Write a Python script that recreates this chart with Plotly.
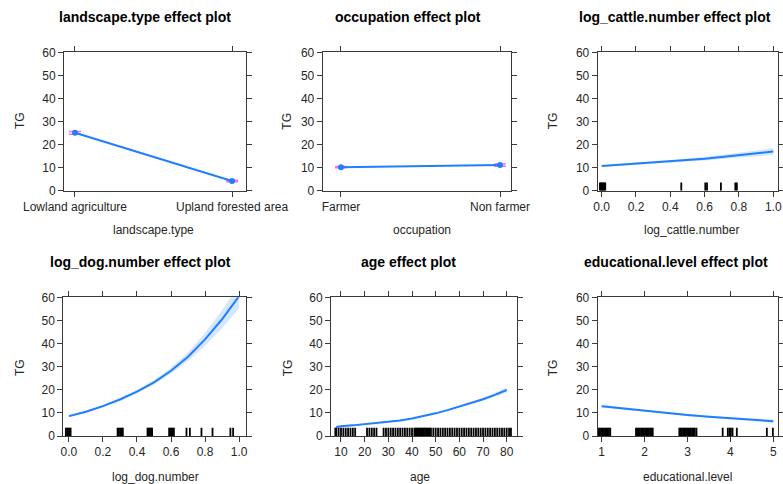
import plotly.graph_objects as go

W, H = 783, 484

# ---------------- data ----------------
landscape_cats = ["Lowland agriculture", "Upland forested area"]
landscape_fit = [25.1, 4.2]
landscape_lo = [24.5, 3.9]
landscape_hi = [25.7, 4.5]

occupation_cats = ["Farmer", "Non farmer"]
occupation_fit = [10.2, 11.1]
occupation_lo = [9.9, 10.6]
occupation_hi = [10.5, 11.6]

cattle_x = [0.0, 0.1, 0.2, 0.3, 0.4, 0.5, 0.6, 0.7, 0.8, 0.9, 1.0]
cattle_fit = [10.7, 11.2, 11.7, 12.2, 12.7, 13.3, 13.9, 14.6, 15.3, 16.1, 17.0]
cattle_lo = [10.3, 10.8, 11.3, 11.7, 12.1, 12.6, 13.1, 13.7, 14.2, 14.8, 15.5]
cattle_hi = [11.1, 11.6, 12.1, 12.7, 13.3, 14.0, 14.7, 15.5, 16.4, 17.4, 18.5]
cattle_rug = [-0.01, -0.004, 0.002, 0.008, 0.014, 0.021, 0.464, 0.604, 0.614,
              0.695, 0.779, 0.788]

dog_x = [0.0, 0.1, 0.2, 0.3, 0.4, 0.5, 0.6, 0.7, 0.8, 0.9, 1.0]
dog_fit = [8.6, 10.5, 12.9, 15.8, 19.2, 23.2, 28.2, 34.3, 41.8, 50.5, 60.5]
dog_lo = [8.1, 10.0, 12.4, 15.2, 18.5, 22.3, 26.9, 32.4, 39.0, 46.6, 55.3]
dog_hi = [9.1, 11.0, 13.4, 16.4, 19.9, 24.1, 29.5, 36.2, 44.6, 54.4, 65.7]
dog_rug = [-0.018, -0.011, -0.004, 0.003, 0.010,
           0.286, 0.294, 0.302, 0.310, 0.317,
           0.462, 0.469, 0.476, 0.483, 0.489,
           0.589, 0.596, 0.603, 0.610, 0.617,
           0.691, 0.711, 0.779, 0.844, 0.949, 0.965]

age_x = [8, 10, 15, 20, 25, 30, 35, 40, 45, 50, 55, 60, 65, 70, 75, 80]
age_fit = [3.9, 4.2, 4.6, 5.1, 5.5, 6.0, 6.7, 7.6, 8.6, 9.8, 11.2, 12.7, 14.2,
           15.9, 17.8, 19.9]
age_lo = [3.4, 3.8, 4.2, 4.8, 5.2, 5.7, 6.4, 7.3, 8.3, 9.5, 10.8, 12.2, 13.6,
          15.2, 16.9, 18.8]
age_hi = [4.4, 4.6, 5.0, 5.4, 5.8, 6.3, 7.0, 7.9, 8.9, 10.1, 11.6, 13.2, 14.8,
          16.6, 18.7, 21.0]
age_rug = [7.6, 8, 9, 10, 11, 12, 13, 14, 15, 16,
           21, 22, 23, 24, 25,
           28, 29, 30, 31, 32, 33, 34, 35, 36, 37, 38, 39, 40,
           41, 41.5, 42, 42.5, 43, 43.5, 44, 44.5, 45, 45.5, 46, 46.5, 47, 47.5, 48,
           49, 50, 51, 52, 53, 54, 55, 56, 57, 58, 59, 60, 61, 62, 63, 64, 65,
           66, 67, 68, 69, 70, 71, 72, 73, 74, 75, 76, 77, 78, 79, 80, 81, 81.8]

edu_x = [1, 1.5, 2, 2.5, 3, 3.5, 4, 4.5, 5]
edu_fit = [12.9, 11.9, 10.9, 10.0, 9.1, 8.3, 7.6, 7.0, 6.4]
edu_lo = [12.3, 11.4, 10.5, 9.6, 8.7, 7.9, 7.1, 6.4, 5.7]
edu_hi = [13.5, 12.4, 11.3, 10.4, 9.5, 8.7, 8.1, 7.6, 7.1]
edu_rug = [0.90, 0.93, 0.96, 0.99, 1.02, 1.05, 1.08, 1.11, 1.14, 1.17, 1.20,
           1.80, 1.83, 1.86, 1.89, 1.92, 1.95, 1.98, 2.01, 2.04, 2.07, 2.10, 2.13, 2.16, 2.19,
           2.81, 2.84, 2.87, 2.90, 2.93, 2.96, 2.99, 3.02, 3.05, 3.08, 3.11, 3.14, 3.17, 3.21,
           3.82, 3.94, 3.98, 4.01, 4.05, 4.15, 4.85, 4.99]

y_ticks = [0, 10, 20, 30, 40, 50, 60]

# ---------------- styling ----------------
LINE = "#1f7fff"
BAND = "rgba(40,135,255,0.20)"
PINK = "rgba(255,70,230,0.8)"
AXC = "#3a3a3a"
TXT = "#262626"
FONT = "Liberation Sans, Arial, sans-serif"
RUG_H = 3.6

# panel boxes in pixels: (left, right, top, bottom)
boxes = [
    (64.0, 246.0, 52.3, 190.7),
    (322.7, 510.7, 52.3, 190.7),
    (597.7, 777.7, 52.3, 190.7),
    (63.3, 245.7, 297.3, 436.0),
    (331.0, 517.0, 297.3, 436.0),
    (597.7, 778.0, 297.3, 436.0),
]
xranges = [
    [0.93, 2.089],
    [0.885, 2.067],
    [-0.023, 1.026],
    [-0.033, 1.039],
    [5.78, 84.35],
    [0.907, 5.11],
]
xtickvals = [
    [1, 2],
    [1, 2],
    [0.0, 0.2, 0.4, 0.6, 0.8, 1.0],
    [0.0, 0.2, 0.4, 0.6, 0.8, 1.0],
    [10, 20, 30, 40, 50, 60, 70, 80],
    [1, 2, 3, 4, 5],
]
xticktext = [
    landscape_cats,
    occupation_cats,
    ["0.0", "0.2", "0.4", "0.6", "0.8", "1.0"],
    ["0.0", "0.2", "0.4", "0.6", "0.8", "1.0"],
    ["10", "20", "30", "40", "50", "60", "70", "80"],
    ["1", "2", "3", "4", "5"],
]
titles = [
    ("landscape.type effect plot", 145.0, 16.7),
    ("occupation effect plot", 408.3, 16.7),
    ("log_cattle.number effect plot", 675.0, 16.7),
    ("log_dog.number effect plot", 140.8, 261.7),
    ("age effect plot", 408.3, 261.7),
    ("educational.level effect plot", 675.8, 261.7),
]
xlabels = [
    ("landscape.type", 153.3, 230.0),
    ("occupation", 421.7, 230.0),
    ("log_cattle.number", 691.7, 230.0),
    ("log_dog.number", 155.0, 476.7),
    ("age", 419.8, 476.7),
    ("educational.level", 687.5, 476.7),
]
ylabels = [
    (20.0, 121.0), (286.7, 121.0), (553.3, 121.0),
    (20.0, 368.0), (288.3, 368.0), (553.3, 368.0),
]

fig = go.Figure()


def ax(i):
    return ("x" if i == 0 else f"x{i+1}"), ("y" if i == 0 else f"y{i+1}")


def add_band(i, xs, lo, hi):
    xa, ya = ax(i)
    fig.add_trace(go.Scatter(x=list(xs) + list(xs)[::-1], y=list(hi) + list(lo)[::-1],
                             fill="toself", fillcolor=BAND, line=dict(width=0),
                             mode="lines", hoverinfo="skip", showlegend=False,
                             xaxis=xa, yaxis=ya))


def add_line(i, xs, ys, markers=False):
    xa, ya = ax(i)
    fig.add_trace(go.Scatter(x=xs, y=ys, mode="lines+markers" if markers else "lines",
                             line=dict(color=LINE, width=2),
                             marker=dict(color=LINE, size=6) if markers else None,
                             showlegend=False, xaxis=xa, yaxis=ya))


def add_factor_ci(i, xs, fit, lo, hi):
    xa, ya = ax(i)
    fig.add_trace(go.Scatter(
        x=xs, y=fit, mode="markers",
        marker=dict(color="rgba(0,0,0,0)", size=1),
        error_y=dict(type="data", symmetric=False,
                     array=[h - f for h, f in zip(hi, fit)],
                     arrayminus=[f - l for f, l in zip(fit, lo)],
                     color=PINK, thickness=1.5, width=6),
        showlegend=False, xaxis=xa, yaxis=ya))


def add_rug(i, vals):
    xa, ya = ax(i)
    rx, ry = [], []
    for v in vals:
        rx += [v, v, None]
        ry += [0, RUG_H, None]
    fig.add_trace(go.Scatter(x=rx, y=ry, mode="lines",
                             line=dict(color="black", width=1.8),
                             hoverinfo="skip", showlegend=False,
                             xaxis=xa, yaxis=ya))


# panel 1: landscape.type
add_factor_ci(0, [1, 2], landscape_fit, landscape_lo, landscape_hi)
add_line(0, [1, 2], landscape_fit, markers=True)
# panel 2: occupation
add_factor_ci(1, [1, 2], occupation_fit, occupation_lo, occupation_hi)
add_line(1, [1, 2], occupation_fit, markers=True)
# panel 3: cattle
add_band(2, cattle_x, cattle_lo, cattle_hi)
add_line(2, cattle_x, cattle_fit)
add_rug(2, cattle_rug)
# panel 4: dog
add_band(3, dog_x, dog_lo, dog_hi)
add_line(3, dog_x, dog_fit)
add_rug(3, dog_rug)
# panel 5: age
add_band(4, age_x, age_lo, age_hi)
add_line(4, age_x, age_fit)
add_rug(4, age_rug)
# panel 6: education
add_band(5, edu_x, edu_lo, edu_hi)
add_line(5, edu_x, edu_fit)
add_rug(5, edu_rug)

layout = dict(
    width=W, height=H,
    margin=dict(l=0, r=0, t=0, b=0, pad=0, autoexpand=False),
    paper_bgcolor="white", plot_bgcolor="white",
    font=dict(family=FONT, size=12, color=TXT),
    showlegend=False,
)
common = dict(showgrid=False, zeroline=False, showline=True, linecolor=AXC,
              linewidth=1, mirror="ticks", ticks="outside", ticklen=5,
              tickcolor=AXC, tickwidth=1, automargin=False,
              tickfont=dict(family=FONT, size=12, color=TXT))
for i, (l, r, t, b) in enumerate(boxes):
    xk = "xaxis" if i == 0 else f"xaxis{i+1}"
    yk = "yaxis" if i == 0 else f"yaxis{i+1}"
    xa, ya = ax(i)
    layout[xk] = dict(common, domain=[l / W, r / W], range=xranges[i],
                      tickvals=xtickvals[i], ticktext=xticktext[i], anchor=ya)
    layout[yk] = dict(common, domain=[1 - b / H, 1 - t / H], range=[0, 60],
                      tickvals=y_ticks, anchor=xa)

ann = []
for text, x, y in titles:
    ann.append(dict(text=f"<b>{text}</b>", x=x / W, y=1 - y / H, xref="paper",
                    yref="paper", showarrow=False, xanchor="center", yanchor="middle",
                    font=dict(family=FONT, size=14, color="black")))
for text, x, y in xlabels:
    ann.append(dict(text=text, x=x / W, y=1 - y / H, xref="paper", yref="paper",
                    showarrow=False, xanchor="center", yanchor="middle",
                    font=dict(family=FONT, size=12, color=TXT)))
for x, y in ylabels:
    ann.append(dict(text="TG", x=x / W, y=1 - y / H, xref="paper", yref="paper",
                    showarrow=False, xanchor="center", yanchor="middle", textangle=-90,
                    font=dict(family=FONT, size=12, color=TXT)))
layout["annotations"] = ann
fig.update_layout(**layout)
fig.write_html("out.html")
